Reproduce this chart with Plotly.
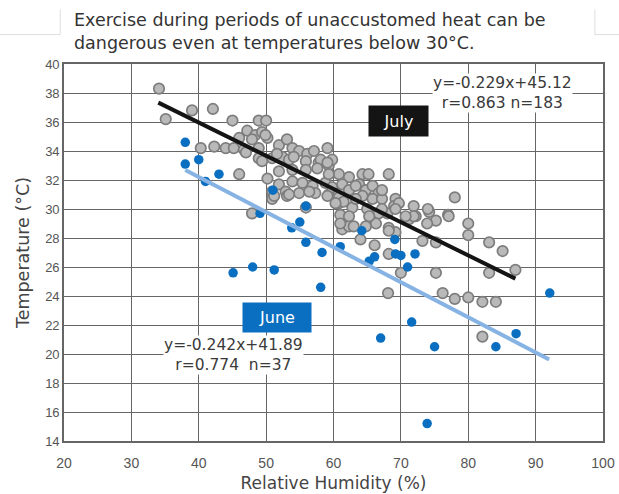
import plotly.graph_objects as go

# July observations: relative humidity (%) and temperature (°C)
july_rh = [
    34.1, 35.1, 39.0, 42.1, 45.0, 48.9, 50.0, 47.2, 48.4, 49.4, 50.2, 46.0, 47.9,
    40.3, 42.3, 44.0, 45.2, 46.7, 51.9, 53.1, 53.9, 54.9, 56.1, 57.1, 59.1, 48.9,
    50.9, 52.4, 53.4, 55.9, 57.8, 59.3, 51.9, 53.9, 55.9, 46.0, 50.2, 51.9, 53.9,
    55.4, 56.9, 58.8, 50.9, 52.9, 54.9, 57.3, 59.3, 50.9, 53.1, 55.9, 47.9,
    59.8, 60.8, 62.3, 64.3, 65.2, 68.2, 59.8, 61.3, 62.3, 63.8, 64.8, 65.8, 66.7,
    64.3, 65.8, 67.2, 69.2, 60.8, 62.8, 65.0, 66.7, 69.0, 71.9, 74.2, 72.2, 71.2,
    75.2, 77.0, 78.0, 80.0, 80.0, 83.1, 85.1, 73.2, 69.2, 68.2, 64.0, 61.3, 62.3,
    66.3, 68.0,
    66.1, 68.2, 75.2, 70.0, 75.2, 83.1, 87.0, 68.1, 76.2, 78.0, 80.0, 82.1, 84.1,
    82.1,
    74.0, 77.1, 73.9, 71.9, 70.7, 69.7,
    51.6, 54.1, 58.1, 59.1, 57.6, 59.3, 63.3, 67.2, 60.8, 63.3,
    49.9, 47.0, 48.9, 49.4,
    51.2, 53.4, 56.4, 59.1, 61.5, 61.0, 62.3, 65.3, 67.2, 69.2, 61.0, 63.0, 64.8,
    68.2, 60.3,
]
july_temp = [
    38.3, 36.2, 36.8, 36.9, 36.1, 36.1, 36.1, 35.4, 35.1, 35.3, 34.9, 34.9, 34.8,
    34.2, 34.3, 34.2, 34.2, 34.1, 34.4, 34.8, 34.2, 34.0, 33.8, 34.0, 34.2, 33.5,
    33.5, 33.6, 33.4, 33.3, 33.2, 33.0, 32.6, 32.7, 32.7, 32.4, 32.1, 31.7, 31.9,
    31.8, 31.6, 31.8, 31.2, 31.2, 31.1, 31.1, 31.0, 30.7, 30.9, 30.1, 29.7,
    33.4, 32.4, 32.2, 32.4, 32.4, 32.4, 31.5, 31.7, 31.3, 31.7, 31.3, 31.6, 31.1,
    30.9, 30.7, 30.7, 30.7, 30.4, 30.1, 30.0, 29.7, 30.2, 30.2, 29.8, 29.5, 29.3,
    29.2, 29.6, 30.8, 29.0, 28.2, 27.7, 27.1, 27.8, 28.4, 28.7, 27.9, 28.6, 28.8,
    29.0, 29.7,
    27.5, 26.9, 27.7, 25.6, 25.6, 25.6, 25.8, 24.2, 24.2, 23.8, 23.9, 23.6, 23.6,
    21.2,
    30.0, 29.5, 29.0, 29.5, 29.5, 30.4,
    33.8, 33.6, 33.4, 33.2, 32.8, 32.4, 31.6, 31.3, 30.8, 30.7,
    35.1, 33.9, 34.2, 33.3,
    30.9, 31.0, 31.2, 30.9, 30.5, 29.6, 29.5, 29.5, 30.0, 30.0, 29.0, 28.8, 28.8,
    28.5, 30.4,
]

# June observations
june_rh = [
    38.0, 38.0, 40.0, 43.0, 41.0, 49.1, 45.1, 48.0, 51.2, 53.8, 55.0, 55.9, 55.9,
    58.3, 58.1, 61.0, 64.2, 66.1, 65.3, 69.1, 69.2, 70.0, 72.1, 71.0, 71.6, 67.0,
    75.0, 73.9, 84.1, 87.1, 92.1, 51.0,
]
june_temp = [
    34.6, 33.1, 33.4, 32.4, 31.9, 29.7, 25.6, 26.0, 25.8, 28.7, 29.1, 30.2, 27.7,
    27.0, 24.6, 27.4, 28.5, 26.7, 26.4, 27.9, 26.9, 26.8, 26.9, 26.0, 22.2, 21.1,
    20.5, 15.2, 20.5, 21.4, 24.2, 31.3,
]

# Regression lines: slope, intercept and fitted x-range
july_fit = (-0.229, 45.12, [34.0, 87.0])
june_fit = (-0.242, 41.89, [38.0, 92.0])

x_ticks = [20, 30, 40, 50, 60, 70, 80, 90, 100]
y_ticks = [14, 16, 18, 20, 22, 24, 26, 28, 30, 32, 34, 36, 38, 40]

FONT = "Liberation Sans, Arial, sans-serif"
WIDE = "DejaVu Sans, sans-serif"
GRID = "#666666"
BLUE = "#0b6fc1"
TITLE = ("Exercise during periods of unaccustomed heat can be<br>"
         "dangerous even at temperatures below 30°C.")

fig = go.Figure()

fig.add_trace(go.Scatter(
    x=july_rh, y=july_temp, mode="markers",
    marker=dict(size=10.5, color="#b9b9b9", line=dict(color="#7d7d7d", width=1.7)),
    showlegend=False,
))
fig.add_trace(go.Scatter(
    x=june_rh, y=june_temp, mode="markers",
    marker=dict(size=9.5, color=BLUE, line=dict(width=0)),
    showlegend=False,
))

for (m, b, xr), col in [(june_fit, "#86b3e3"), (july_fit, "#141414")]:
    fig.add_trace(go.Scatter(
        x=xr, y=[m * v + b for v in xr], mode="lines",
        line=dict(color=col, width=4), showlegend=False,
    ))

# Series labels
fig.add_annotation(x=69.6, y=36.05, text="July", showarrow=False,
                   font=dict(family=WIDE, size=16, color="white"),
                   bgcolor="#141414", borderpad=0, width=59, height=30)
fig.add_annotation(x=51.6, y=22.5, text="June", showarrow=False,
                   font=dict(family=WIDE, size=16, color="white"),
                   bgcolor=BLUE, borderpad=0, width=68, height=29)

# Regression equations
fig.add_annotation(x=85.1, y=38.0,
                   text=f"y={july_fit[0]}x+{july_fit[1]:.2f}<br>r=0.863 n=183",
                   showarrow=False, bgcolor="white", borderpad=0,
                   font=dict(family=WIDE, size=15.5, color="#3a3a3a"))
fig.add_annotation(x=45.2, y=19.9,
                   text=f"y={june_fit[0]}x+{june_fit[1]:.2f}<br>r=0.774  n=37",
                   showarrow=False, bgcolor="white", borderpad=0,
                   font=dict(family=WIDE, size=15.5, color="#3a3a3a"))

# Heading above the plot, inside a faint tab-shaped frame
fig.add_annotation(xref="paper", yref="paper", x=0.015, y=1.148,
                   xanchor="left", yanchor="top", align="left",
                   text=TITLE, showarrow=False,
                   font=dict(family=WIDE, size=17.5, color="#333333"))
frame = dict(type="line", xref="paper", yref="paper",
             line=dict(color="#dddddd", width=1))
for x0, y0, x1, y1 in [(-0.119, 1.078, -0.007, 1.078), (-0.007, 1.078, -0.007, 1.145),
                       (0.985, 1.078, 1.03, 1.078), (0.985, 1.078, 0.985, 1.145)]:
    fig.add_shape(frame, x0=x0, y0=y0, x1=x1, y1=y1)

fig.update_layout(
    width=619, height=494,
    margin=dict(l=64, r=16, t=64, b=53, autoexpand=False),
    paper_bgcolor="white", plot_bgcolor="white",
    font=dict(family=FONT, color="#444444"),
    xaxis=dict(
        range=[20, 100], tickvals=x_ticks, showgrid=True, gridcolor=GRID, gridwidth=1.4,
        zeroline=False, showline=True, linecolor=GRID, linewidth=1.6, mirror=True,
        ticks="", ticklabelstandoff=8, automargin=False,
        tickfont=dict(size=14, color="#555555"),
        title=dict(text="Relative Humidity (%)", font=dict(family=WIDE, size=17, color="#444444"),
                   standoff=8),
    ),
    yaxis=dict(
        range=[14, 40], tickvals=y_ticks, showgrid=True, gridcolor=GRID, gridwidth=1.4,
        zeroline=False, showline=True, linecolor=GRID, linewidth=1.6, mirror=True,
        ticks="", automargin=False, tickfont=dict(size=13, color="#555555"),
        title=dict(text="Temperature (°C)", font=dict(family=WIDE, size=17.5, color="#444444"),
                   standoff=11),
    ),
)

fig.write_html("out.html")
